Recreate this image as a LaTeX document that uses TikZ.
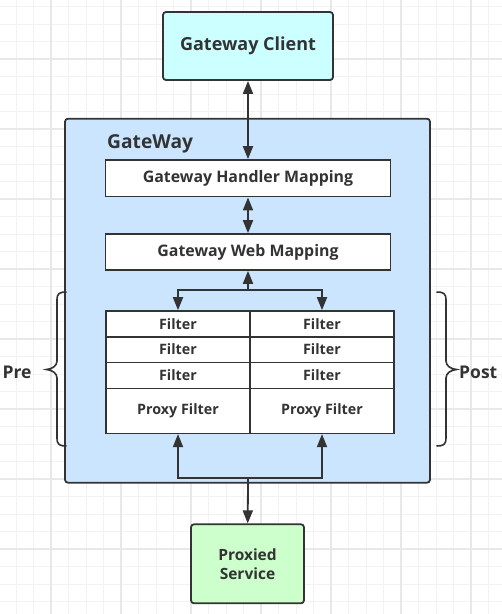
\documentclass[tikz,border=0pt]{standalone}
\usepackage{fontspec}
\setmainfont{Open Sans}
\usetikzlibrary{arrows.meta}
\definecolor{ink}{HTML}{333333}
\definecolor{gridminor}{HTML}{F2F2F2}
\definecolor{gridmajor}{HTML}{E8E8E8}
\definecolor{clientfill}{HTML}{CCFFFF}
\definecolor{gwfill}{HTML}{CCE5FF}
\definecolor{svcfill}{HTML}{CCFFCC}
\tikzset{
  box/.style={draw=ink, line width=1.8pt, text=ink, font=\bfseries, inner sep=0pt, align=center},
  roundbox/.style={box, rounded corners=3pt},
  cell/.style={box, fill=white, line width=1.6pt},
  conn/.style={draw=ink, line width=1.8pt},
  tip/.style={-{Triangle[length=13pt,width=10pt]}},
  bothtips/.style={{Triangle[length=13pt,width=10pt]}-{Triangle[length=13pt,width=10pt]}},
  lbl/.style={text=ink, font=\bfseries, inner sep=0pt},
  bracestyle/.style={draw=ink, line width=1.6pt}
}
\begin{document}
\begin{tikzpicture}[x=1pt,y=-1pt]
\useasboundingbox (0,0) rectangle (502,614);
\fill[white] (0,0) rectangle (502,614);
% grid
\foreach \i in {0,...,29} {\draw[gridminor, line width=1pt] ({-1.5+17.5*\i},0) -- ({-1.5+17.5*\i},614);}
\foreach \i in {0,...,34} {\draw[gridminor, line width=1pt] (0,{6.5+17.5*\i}) -- (502,{6.5+17.5*\i});}
\foreach \i in {0,...,6} {\draw[gridmajor, line width=1.2pt] ({51+70*\i},0) -- ({51+70*\i},614);}
\foreach \i in {0,...,7} {\draw[gridmajor, line width=1.2pt] (0,{59+70*\i}) -- (502,{59+70*\i});}

% container
\node[roundbox, fill=gwfill, minimum width=365pt, minimum height=364pt] (gw) at (247.5,300.7) {};
\node[lbl, anchor=base west, font=\bfseries\fontsize{19.2}{22}\selectfont] (gwlabel) at (107,148) {GateWay};

% client
\node[roundbox, fill=clientfill, minimum width=170pt, minimum height=68pt, font=\bfseries\fontsize{18}{21}\selectfont] (client) at (248,46) {Gateway Client};

% mappings
\node[cell, minimum width=284.7pt, minimum height=36.7pt, font=\bfseries\fontsize{15.9}{18}\selectfont] (handler) at (248,178.3) {Gateway Handler Mapping};
\node[cell, minimum width=284.7pt, minimum height=36pt, font=\bfseries\fontsize{15.9}{18}\selectfont] (web) at (248,252) {Gateway Web Mapping};

% filter table
\foreach \c/\x in {l/178,r/322} {
  \node[cell, minimum width=144pt, minimum height=25.7pt, font=\bfseries\fontsize{14.3}{16}\selectfont] (f1\c) at (\x,323.85) {Filter};
  \node[cell, minimum width=144pt, minimum height=25.6pt, font=\bfseries\fontsize{14.3}{16}\selectfont] (f2\c) at (\x,349.5) {Filter};
  \node[cell, minimum width=144pt, minimum height=26pt, font=\bfseries\fontsize{14.3}{16}\selectfont] (f3\c) at (\x,375.3) {Filter};
  \node[cell, minimum width=144pt, minimum height=45pt, font=\bfseries\fontsize{14.3}{16}\selectfont] (p\c) at (\x,410.8) {Proxy Filter};
}

% proxied service
\node[roundbox, fill=svcfill, minimum width=113pt, minimum height=79pt, font=\bfseries\fontsize{15.5}{19}\selectfont] (svc) at (247.5,563.8) {Proxied\\Service};

% connectors
\draw[conn, bothtips] (client) -- (handler);
\draw[conn, bothtips] (handler) -- (web);
\coordinate (split) at (248,290);
\draw[conn, tip] (split) -- (web);
\draw[conn, tip] (split) -| (f1l);
\draw[conn, tip] (split) -| (f1r);
\coordinate (join) at (248,478.3);
\draw[conn, tip] (join) -| (pl);
\draw[conn, tip] (join) -| (pr);
\draw[conn, tip] (join) -- (svc);

% braces
\draw[bracestyle] (66.5,292) .. controls (60,292) and (57,293) .. (57,300) -- (57,361)
  .. controls (57,366) and (52,369) .. (46.5,369.5) .. controls (52,370) and (57,373) .. (57,378)
  -- (57,438) .. controls (57,445) and (60,446) .. (66.5,446);
\draw[bracestyle] (436.5,292) .. controls (443,292) and (446,293) .. (446,300) -- (446,361)
  .. controls (446,366) and (451,369) .. (456.5,369.5) .. controls (451,370) and (446,373) .. (446,378)
  -- (446,438) .. controls (446,445) and (443,446) .. (436.5,446);
\node[lbl, anchor=east, font=\bfseries\fontsize{17.5}{20}\selectfont] (pre) at (31.7,372) {Pre};
\node[lbl, anchor=west, font=\bfseries\fontsize{17.5}{20}\selectfont] (post) at (459,372) {Post};
\end{tikzpicture}
\end{document}
